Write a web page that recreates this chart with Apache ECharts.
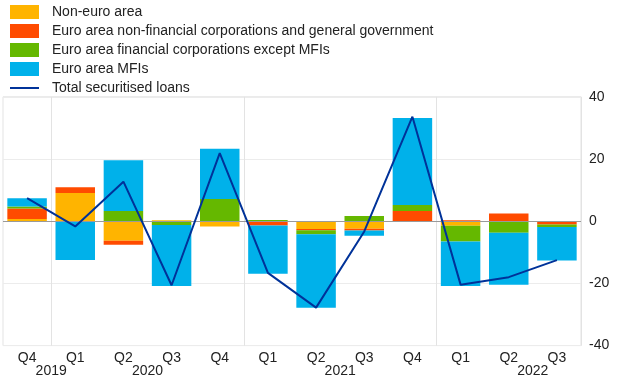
<!DOCTYPE html>
<html>
<head>
<meta charset="utf-8">
<script src="https://cdn.jsdelivr.net/npm/echarts@6/dist/echarts.min.js"></script>
<style>html,body{margin:0;padding:0;background:#fff}#c{width:620px;height:387px}</style>
</head>
<body>
<div id="c"></div>
<script>
const quarters = ['Q4','Q1','Q2','Q3','Q4','Q1','Q2','Q3','Q4','Q1','Q2','Q3'];
const yearLabels = ['', '2019', '', '2020', '', '', '', '2021', '', '', '', '2022', ''];
const nonEuro   = [0.7, 9.1, -6.3, 0.3, -1.7, 0, -2.5, -2.4, 0, -1.5, 0, 0];
const nfcGov    = [3.4, 1.8, -1.3, 0, 0, -1.4, -0.4, -0.6, 3.3, 0.3, 2.5, -1.1];
const finCorp   = [0.6, 0, 3.3, -1.2, 7.1, 0.4, -1.3, 1.7, 1.9, -5.0, -3.7, -0.8];
const mfis      = [2.7, -12.5, 16.3, -19.6, 16.2, -15.5, -23.6, -1.7, 28.0, -14.3, -16.7, -10.7];
const total     = [7.4, -1.7, 12.7, -20.6, 21.9, -16.6, -27.8, -3.3, 33.6, -20.4, -18.0, -12.5];
const yTicks = {min: -40, max: 40, interval: 20};

const font = '"Liberation Sans", Arial, sans-serif';
const chart = echarts.init(document.getElementById('c'), null, {renderer: 'canvas'});
const boundary = (i) => i === 1 || i === 5 || i === 9;
function bar(name, data, color) {
  return {name, type: 'bar', stack: 'a', data, barWidth: '82%',
    itemStyle: {color}, emphasis: {disabled: true}, silent: true, xAxisIndex: 0};
}
chart.setOption({
  animation: false,
  textStyle: {fontFamily: font},
  legend: {
    orient: 'vertical', left: 9, top: 5, padding: 0, itemWidth: 29, itemHeight: 14, itemGap: 5,
    selectedMode: false,
    textStyle: {fontSize: 14, color: '#222', fontFamily: font, padding: [0, 0, 0, 8]},
    data: [
      {name: 'Non-euro area', icon: 'rect'},
      {name: 'Euro area non-financial corporations and general government', icon: 'rect'},
      {name: 'Euro area financial corporations except MFIs', icon: 'rect'},
      {name: 'Euro area MFIs', icon: 'rect'},
      {name: 'Total securitised loans', itemStyle: {opacity: 0}}
    ]
  },
  grid: {left: 1, right: 39, top: 96.8, bottom: 41.4, show: true, borderColor: '#e3e3e3', borderWidth: 1},
  xAxis: [
    {type: 'category', data: quarters, position: 'bottom',
      axisLine: {show: false},
      axisTick: {show: true, interval: boundary, length: 7, lineStyle: {color: '#e3e3e3'}},
      splitLine: {show: true, interval: boundary, lineStyle: {color: '#e3e3e3'}},
      axisLabel: {interval: 0, fontSize: 14, color: '#222', margin: 6, fontFamily: font}},
    {type: 'category', data: yearLabels, position: 'bottom', boundaryGap: false,
      axisLine: {show: false}, axisTick: {show: false}, splitLine: {show: false},
      axisLabel: {interval: 0, fontSize: 14, color: '#222', margin: 19, fontFamily: font}}
  ],
  yAxis: {type: 'value', position: 'right', min: yTicks.min, max: yTicks.max, interval: yTicks.interval,
    axisLine: {show: false}, axisTick: {show: false},
    splitLine: {show: true, lineStyle: {color: '#ececec'}},
    axisLabel: {fontSize: 14, color: '#222', margin: 8, fontFamily: font}},
  series: [
    bar('Non-euro area', nonEuro, '#FFB400'),
    bar('Euro area non-financial corporations and general government', nfcGov, '#FF4B00'),
    bar('Euro area financial corporations except MFIs', finCorp, '#65B800'),
    Object.assign(bar('Euro area MFIs', mfis, '#00B1EA'), {
      markLine: {silent: true, symbol: 'none', label: {show: false},
        lineStyle: {color: '#9a9a9a', type: 'solid', width: 1}, data: [{yAxis: 0}]}
    }),
    {name: 'Total securitised loans', type: 'line', data: total, symbol: 'none',
      lineStyle: {color: '#003299', width: 2}, itemStyle: {color: '#003299'},
      silent: true, z: 5, xAxisIndex: 0}
  ]
});
</script>
</body>
</html>
